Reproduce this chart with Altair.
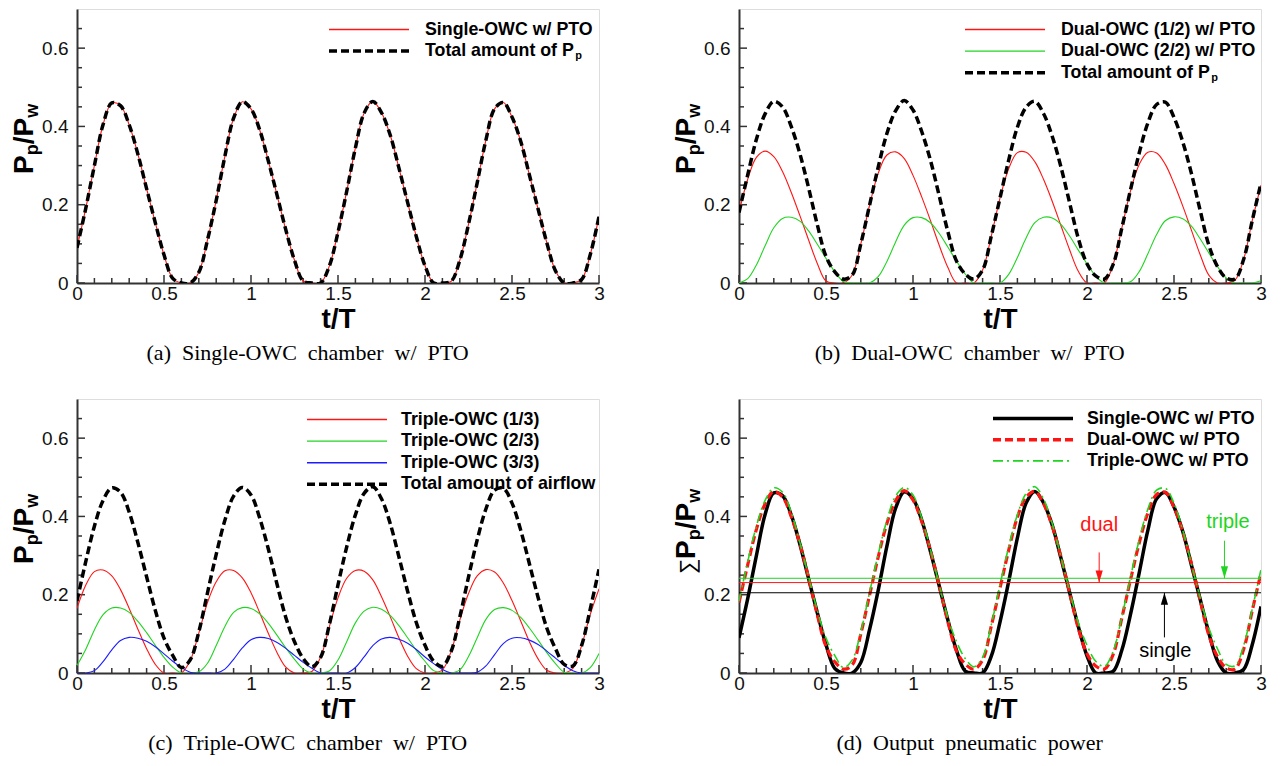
import altair as alt
import pandas as pd

# ---------------- data ----------------
T = [0.0, 0.05, 0.1, 0.15, 0.2, 0.25, 0.3, 0.35, 0.4, 0.45, 0.5, 0.55, 0.6, 0.65, 0.7, 0.75,
     0.8, 0.85, 0.9, 0.95, 1.0, 1.05, 1.1, 1.15, 1.2, 1.25, 1.3, 1.35, 1.4, 1.45, 1.5, 1.55,
     1.6, 1.65, 1.7, 1.75, 1.8, 1.85, 1.9, 1.95, 2.0, 2.05, 2.1, 2.15, 2.2, 2.25, 2.3, 2.35,
     2.4, 2.45, 2.5, 2.55, 2.6, 2.65, 2.7, 2.75, 2.8, 2.85, 2.9, 2.95, 3.0]

SINGLE = [0.09, 0.19, 0.30, 0.405, 0.46, 0.453, 0.404, 0.329, 0.241, 0.154,
          0.072, 0.012, 0.0, 0.0, 0.027, 0.11, 0.211, 0.324, 0.421, 0.463,
          0.445, 0.391, 0.311, 0.224, 0.136, 0.058, 0.005, 0.0, 0.0, 0.043,
          0.13, 0.234, 0.345, 0.434, 0.464, 0.435, 0.378, 0.294, 0.206, 0.119,
          0.044, 0.0, 0.0, 0.004, 0.058, 0.15, 0.256, 0.365, 0.445, 0.461,
          0.424, 0.362, 0.276, 0.189, 0.103, 0.031, 0.0, 0.0, 0.009, 0.073, 0.17]

DUAL_1 = [0.18, 0.265, 0.321, 0.337, 0.323, 0.285, 0.232, 0.172, 0.11, 0.05,
          0.005, 0.0, 0.0, 0.02, 0.10, 0.198, 0.28, 0.327, 0.335, 0.318,
          0.275, 0.22, 0.16, 0.097, 0.04, 0.0, 0.0, 0.0, 0.033, 0.12,
          0.217, 0.292, 0.333, 0.334, 0.31, 0.265, 0.209, 0.147, 0.085, 0.03,
          0.0, 0.0, 0.0, 0.047, 0.14, 0.235, 0.303, 0.334, 0.332, 0.303,
          0.254, 0.197, 0.135, 0.073, 0.02, 0.0, 0.0, 0.007, 0.06, 0.16, 0.25]

DUAL_2 = [0.0, 0.011, 0.046, 0.095, 0.141, 0.165, 0.168, 0.158, 0.133, 0.099,
          0.063, 0.029, 0.004, 0.0, 0.0, 0.0, 0.016, 0.055, 0.105, 0.148,
          0.167, 0.167, 0.154, 0.127, 0.092, 0.056, 0.023, 0.0, 0.0, 0.0,
          0.0, 0.022, 0.065, 0.115, 0.154, 0.168, 0.166, 0.15, 0.12, 0.084,
          0.049, 0.018, 0.0, 0.0, 0.0, 0.003, 0.029, 0.075, 0.124, 0.159,
          0.169, 0.164, 0.145, 0.113, 0.077, 0.042, 0.013, 0.0, 0.0, 0.0, 0.006]

DUAL_TOTAL = [0.18, 0.276, 0.367, 0.432, 0.464, 0.45, 0.40, 0.33, 0.243, 0.149,
              0.068, 0.029, 0.01, 0.02, 0.10, 0.198, 0.296, 0.382, 0.44, 0.466,
              0.442, 0.387, 0.314, 0.224, 0.132, 0.056, 0.023, 0.01, 0.033, 0.12,
              0.217, 0.314, 0.398, 0.449, 0.464, 0.433, 0.375, 0.297, 0.205, 0.114,
              0.049, 0.018, 0.01, 0.047, 0.14, 0.238, 0.332, 0.409, 0.456, 0.462,
              0.423, 0.361, 0.28, 0.186, 0.097, 0.042, 0.013, 0.01, 0.06, 0.16, 0.256]

TRIPLE_1 = [0.165, 0.224, 0.259, 0.263, 0.248, 0.213, 0.165, 0.112, 0.062, 0.022,
            0.0, 0.0, 0.0, 0.031, 0.102, 0.18, 0.233, 0.261, 0.262, 0.243,
            0.205, 0.154, 0.101, 0.052, 0.015, 0.0, 0.0, 0.004, 0.04, 0.118,
            0.192, 0.242, 0.262, 0.26, 0.238, 0.195, 0.144, 0.09, 0.043, 0.011,
            0.0, 0.0, 0.008, 0.055, 0.135, 0.203, 0.248, 0.264, 0.258, 0.23,
            0.185, 0.133, 0.08, 0.036, 0.007, 0.0, 0.0, 0.012, 0.07, 0.15, 0.215]

TRIPLE_2 = [0.019, 0.06, 0.11, 0.149, 0.166, 0.166, 0.155, 0.132, 0.103, 0.071,
            0.04, 0.015, 0.0, 0.0, 0.003, 0.025, 0.07, 0.119, 0.155, 0.167,
            0.165, 0.151, 0.127, 0.096, 0.064, 0.035, 0.01, 0.0, 0.0, 0.005,
            0.033, 0.08, 0.128, 0.158, 0.168, 0.163, 0.147, 0.121, 0.09, 0.058,
            0.03, 0.006, 0.0, 0.0, 0.008, 0.042, 0.09, 0.137, 0.162, 0.167,
            0.16, 0.142, 0.115, 0.084, 0.052, 0.024, 0.002, 0.0, 0.0, 0.014, 0.05]

TRIPLE_3 = [0.0, 0.0, 0.006, 0.029, 0.059, 0.083, 0.091, 0.089, 0.081, 0.067,
            0.049, 0.03, 0.014, 0.002, 0.0, 0.0, 0.0, 0.01, 0.035, 0.064,
            0.085, 0.091, 0.088, 0.078, 0.063, 0.045, 0.027, 0.012, 0.0, 0.0,
            0.0, 0.0, 0.014, 0.041, 0.07, 0.087, 0.091, 0.086, 0.076, 0.06,
            0.041, 0.024, 0.009, 0.0, 0.0, 0.0, 0.002, 0.018, 0.047, 0.075,
            0.089, 0.09, 0.084, 0.073, 0.056, 0.038, 0.02, 0.006, 0.0, 0.0, 0.0]

TRIPLE_TOTAL = [0.184, 0.284, 0.375, 0.441, 0.473, 0.462, 0.411, 0.333, 0.246, 0.16,
                0.089, 0.045, 0.014, 0.033, 0.105, 0.205, 0.303, 0.39, 0.452, 0.474,
                0.455, 0.396, 0.316, 0.226, 0.142, 0.08, 0.037, 0.016, 0.04, 0.123,
                0.225, 0.322, 0.404, 0.459, 0.476, 0.445, 0.382, 0.297, 0.209, 0.129,
                0.071, 0.03, 0.017, 0.055, 0.143, 0.245, 0.34, 0.419, 0.467, 0.472,
                0.434, 0.365, 0.279, 0.193, 0.115, 0.062, 0.022, 0.018, 0.07, 0.164, 0.265]

MEAN_NAMES = ["single", "dual", "triple"]
MEAN_VALUES = [0.205, 0.231, 0.242]
ARROW_T = [2.445, 2.07, 2.79]
ARROW_TAIL = [0.091, 0.308, 0.338]
LABEL_T = [2.45, 2.07, 2.81]
LABEL_V = [0.055, 0.378, 0.387]

X_MAJOR = [0, 0.5, 1, 1.5, 2, 2.5, 3]
X_MINOR = [0.1, 0.2, 0.3, 0.4, 0.6, 0.7, 0.8, 0.9, 1.1, 1.2, 1.3, 1.4, 1.6, 1.7, 1.8, 1.9,
           2.1, 2.2, 2.3, 2.4, 2.6, 2.7, 2.8, 2.9]
Y_MAJOR = [0, 0.2, 0.4, 0.6]
Y_MINOR = [0.05, 0.1, 0.15, 0.25, 0.3, 0.35, 0.45, 0.5, 0.55, 0.65]

CAPTIONS = ["(a)  Single-OWC  chamber  w/  PTO", "(b)  Dual-OWC  chamber  w/  PTO",
            "(c)  Triple-OWC  chamber  w/  PTO", "(d)  Output  pneumatic  power"]

# ---------------- styling ----------------
W, H = 522, 274
RED, GREEN, BLUE, BLACK = "#ff1414", "#22d422", "#1c1cff", "#000000"
FRAME = "#333333"
FONT = "Liberation Sans"
SERIF = "Liberation Serif"
DASH = [8, 4]
DASHDOT = [10, 4, 2, 4]
LEG_FS = 17.8
DUMMY = pd.DataFrame({"d": [0]})

xs = alt.Scale(domain=[0, 3], nice=False, zero=False)
ys = alt.Scale(domain=[0, 0.7], nice=False, zero=False)
XAX = alt.Axis(values=X_MAJOR, format=".1~f", ticks=False, grid=False, title="t/T",
               labelFont=FONT, labelFontSize=19, labelPadding=1, labelColor="#111",
               labelFlush=False, labelOverlap=False,
               titleFont=FONT, titleFontSize=28, titleFontWeight="bold", titleColor="#000",
               titlePadding=2, domainColor=FRAME, domainWidth=2)
YAX = alt.Axis(values=Y_MAJOR, format=".1~f", ticks=False, grid=False, title=None,
               labelFont=FONT, labelFontSize=19, labelPadding=9, labelColor="#111",
               labelFlush=False, labelOverlap=False, domainColor=FRAME, domainWidth=2)


def X():
    return alt.X("t:Q", scale=xs, axis=XAX)


def Y(field="v"):
    return alt.Y(f"{field}:Q", scale=ys, axis=YAX)


def curve(values, color, width, dash=None):
    df = pd.DataFrame({"t": T, "v": values})
    kw = dict(color=color, strokeWidth=width, clip=True, interpolate="catmull-rom")
    if dash:
        kw["strokeDash"] = dash
    return alt.Chart(df).mark_line(**kw).encode(x=X(), y=Y())


def ticks():
    out = []
    for vals, ln in ((X_MAJOR, 8), (X_MINOR, 5)):
        out.append(alt.Chart(pd.DataFrame({"t": vals})).mark_rule(color=FRAME, strokeWidth=1.5)
                   .encode(x=X(), y=alt.value(H), y2=alt.value(H - ln)))
    for vals, ln in ((Y_MAJOR, 8), (Y_MINOR, 5)):
        out.append(alt.Chart(pd.DataFrame({"v": vals})).mark_rule(color=FRAME, strokeWidth=1.5)
                   .encode(y=Y(), x=alt.value(0), x2=alt.value(ln)))
    return out


def text_at(txt, x, y, size, weight="bold", color="#000", align="left", baseline="middle",
            angle=0, dx=0, dy=0, font=FONT):
    kw = dict(text=txt, font=font, fontSize=size, fontWeight=weight, color=color,
              align=align, baseline=baseline, dx=dx, dy=dy)
    if angle:
        kw["angle"] = angle
    return alt.Chart(DUMMY).mark_text(**kw).encode(x=alt.value(x), y=alt.value(y))


def legend(rows, x1, x2, xt, y0, step=21.6):
    out = []
    for i, (label, color, width, dash, sub) in enumerate(rows):
        y = y0 + i * step
        kw = dict(stroke=color, color=color, strokeWidth=width, opacity=1)
        if dash:
            kw["strokeDash"] = dash
        out.append(alt.Chart(DUMMY).mark_rule(**kw)
                   .encode(x=alt.value(x1), x2=alt.value(x2), y=alt.value(y)))
        out.append(text_at(label, xt, y, LEG_FS))
        if sub:
            out.append(text_at("p", xt + 8.445 * LEG_FS, y + 5, 11))
    return out


def ytitle(y0, sigma=False, x0=-44):
    parts = []
    off = 0
    if sigma:
        parts.append(text_at("∑", x0, y0, 22, weight="normal", baseline="alphabetic", angle=270))
        off = 15
    spec = [("P", 28, 0, 0), ("p", 18, 18.7, 5), ("/", 28, 29.7, 0), ("P", 28, 37.5, 0), ("w", 18, 56.2, 5)]
    for txt, size, dx, dy in spec:
        parts.append(text_at(txt, x0, y0, size, baseline="alphabetic", angle=270, dx=dx + off, dy=dy))
    return parts


def panel(layers, caption):
    return alt.layer(*layers).properties(
        width=W, height=H,
        title=alt.Title(caption.replace("  ", " \u00a0"), orient="bottom", anchor="middle",
                        frame="bounds", font=SERIF, fontSize=22, fontWeight="normal",
                        color="#000", offset=10))


THIN = 1.4

# (a)
pa = panel(ticks() + [curve(SINGLE, RED, 1.1), curve(SINGLE, BLACK, 3.5, DASH)]
           + legend([("Single-OWC w/ PTO", RED, THIN, None, False),
                     ("Total amount of P", BLACK, 3.5, DASH, True)], 252, 332, 348, 20.5)
           + ytitle(165), CAPTIONS[0])

# (b)
pb = panel(ticks() + [curve(DUAL_1, RED, 1.1), curve(DUAL_2, GREEN, 1.1), curve(DUAL_TOTAL, BLACK, 3.5, DASH)]
           + legend([("Dual-OWC (1/2) w/ PTO", RED, THIN, None, False),
                     ("Dual-OWC (2/2) w/ PTO", GREEN, THIN, None, False),
                     ("Total amount of P", BLACK, 3.5, DASH, True)], 226, 306, 322, 20.5)
           + ytitle(165), CAPTIONS[1])

# (c)
pc = panel(ticks() + [curve(TRIPLE_1, RED, 1.1), curve(TRIPLE_2, GREEN, 1.1), curve(TRIPLE_3, BLUE, 1.1),
                      curve(TRIPLE_TOTAL, BLACK, 3.5, DASH)]
           + legend([("Triple-OWC (1/3)", RED, THIN, None, False),
                     ("Triple-OWC (2/3)", GREEN, THIN, None, False),
                     ("Triple-OWC (3/3)", BLUE, THIN, None, False),
                     ("Total amount of airflow", BLACK, 3.5, DASH, False)], 230, 310, 324, 20.5)
           + ytitle(165), CAPTIONS[2])

# (d)
cscale = alt.Scale(domain=MEAN_NAMES, range=[BLACK, RED, GREEN])
means = pd.DataFrame({"name": MEAN_NAMES, "v": MEAN_VALUES})
mean_lines = alt.Chart(means).mark_rule(strokeWidth=1).encode(
    y=Y(), x=alt.value(0), x2=alt.value(W), color=alt.Color("name:N", scale=cscale, legend=None))
arrows_df = pd.DataFrame({"name": MEAN_NAMES, "t": ARROW_T, "v": ARROW_TAIL, "v2": MEAN_VALUES})
arrow_lines = alt.Chart(arrows_df).mark_rule(strokeWidth=1).encode(
    x=X(), y=Y(), y2="v2:Q", color=alt.Color("name:N", scale=cscale, legend=None))
heads_down = alt.Chart(arrows_df[arrows_df["name"] != "single"]).mark_point(
    shape="M-0.6,-2L0.6,-2L0,0Z", filled=True, size=144, opacity=1, strokeWidth=0).encode(
    x=X(), y=Y("v2"), color=alt.Color("name:N", scale=cscale, legend=None))
heads_up = alt.Chart(arrows_df[arrows_df["name"] == "single"]).mark_point(
    shape="M-0.6,2L0.6,2L0,0Z", filled=True, size=144, opacity=1, strokeWidth=0).encode(
    x=X(), y=Y("v2"), color=alt.Color("name:N", scale=cscale, legend=None))
labels_df = pd.DataFrame({"name": MEAN_NAMES, "t": LABEL_T, "v": LABEL_V})
labels = alt.Chart(labels_df).mark_text(font=FONT, fontSize=20, align="center", baseline="middle").encode(
    x=X(), y=Y(), text="name:N", color=alt.Color("name:N", scale=cscale, legend=None))

pd_ = panel(ticks() + [curve(SINGLE, BLACK, 3.5), curve(DUAL_TOTAL, RED, 3.2, DASH),
                       curve(TRIPLE_TOTAL, GREEN, 1.6, DASHDOT),
                       mean_lines, arrow_lines, heads_down, heads_up, labels]
            + legend([("Single-OWC w/ PTO", BLACK, 3.5, None, False),
                      ("Dual-OWC w/ PTO", RED, 3.5, DASH, False),
                      ("Triple-OWC w/ PTO", GREEN, 1.8, DASHDOT, False)], 254, 334, 348, 19.5, 21.2)
            + ytitle(175, sigma=True), CAPTIONS[3])

chart = alt.vconcat(
    alt.hconcat(pa, pb, spacing=67),
    alt.hconcat(pc, pd_, spacing=67),
    spacing=33,
).properties(padding={"left": 2, "top": 0, "right": 0, "bottom": 0}).configure_view(
    stroke=FRAME, strokeWidth=2).configure(background="white")

chart.save("out.html", embed_options={"renderer": "svg", "actions": False})
